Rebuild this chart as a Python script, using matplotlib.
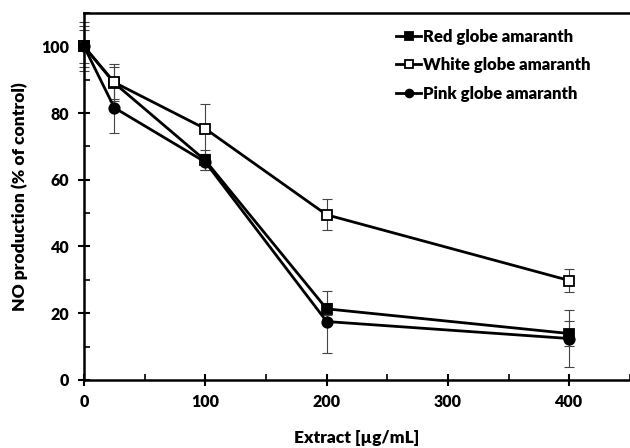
import matplotlib
matplotlib.use("Agg")
import matplotlib.pyplot as plt
from matplotlib.ticker import MultipleLocator

plt.rcParams["font.family"] = ["Lato", "DejaVu Sans"]
plt.rcParams["font.weight"] = "heavy"

# --- data ---
dose = [0, 25, 100, 200, 400]
red = [100, 89.0, 65.8, 21.3, 13.9]
red_err = [6.2, 4.8, 3.0, 1.8, 3.7]
white = [100, 89.2, 75.3, 49.5, 29.8]
white_err = [7.4, 5.5, 7.5, 4.6, 3.5]
pink = [100, 81.6, 65.3, 17.5, 12.4]
pink_err = [5.0, 7.6, 2.5, 9.3, 8.5]

series = [
    ("Red globe amaranth", red, red_err, "s", "black"),
    ("White globe amaranth", white, white_err, "s", "white"),
    ("Pink globe amaranth", pink, pink_err, "o", "black"),
]

fig = plt.figure(figsize=(6.3, 4.48), dpi=100)
ax = fig.add_axes([0.1333, 0.152, 0.8667, 0.819])

for name, y, e, m, fc in series:
    ax.errorbar(dose, y, yerr=e, fmt="none", ecolor="#444444", elinewidth=0.8,
                capsize=3.5, capthick=0.8, zorder=2, clip_on=False)
for name, y, e, m, fc in series:
    ax.plot(dose, y, color="black", lw=2, marker=m, ms=7 if m == "s" else 7.5,
            mfc=fc, mec="black", mew=1.3, label=name, zorder=3, clip_on=False)

ax.set_xlim(0, 450)
ax.set_ylim(0, 110)
ax.xaxis.set_major_locator(MultipleLocator(100))
ax.xaxis.set_minor_locator(MultipleLocator(50))
ax.yaxis.set_major_locator(MultipleLocator(20))
ax.yaxis.set_minor_locator(MultipleLocator(10))
ax.tick_params(which="major", direction="inout", length=9, width=1.5, labelsize=11.5, pad=6)
ax.tick_params(which="minor", direction="in", length=4.5, width=1.2)
for lab in ax.get_xticklabels() + ax.get_yticklabels():
    lab.set_fontweight("heavy")

for s in ("left", "bottom", "top"):
    ax.spines[s].set_linewidth(1.8)
ax.spines["right"].set_visible(False)

ax.set_xlabel("Extract [µg/mL]", fontsize=12.5, fontweight="heavy", labelpad=14)
ax.set_ylabel("NO production (% of control)", fontsize=12.5, fontweight="heavy", labelpad=10)

leg = ax.legend(loc="upper left", bbox_to_anchor=(0.56, 0.975), frameon=False,
                fontsize=12, handlelength=1.5, handletextpad=0.1, labelspacing=0.75,
                borderaxespad=0, markerscale=0.75)

fig.savefig("out.png", dpi=100)
